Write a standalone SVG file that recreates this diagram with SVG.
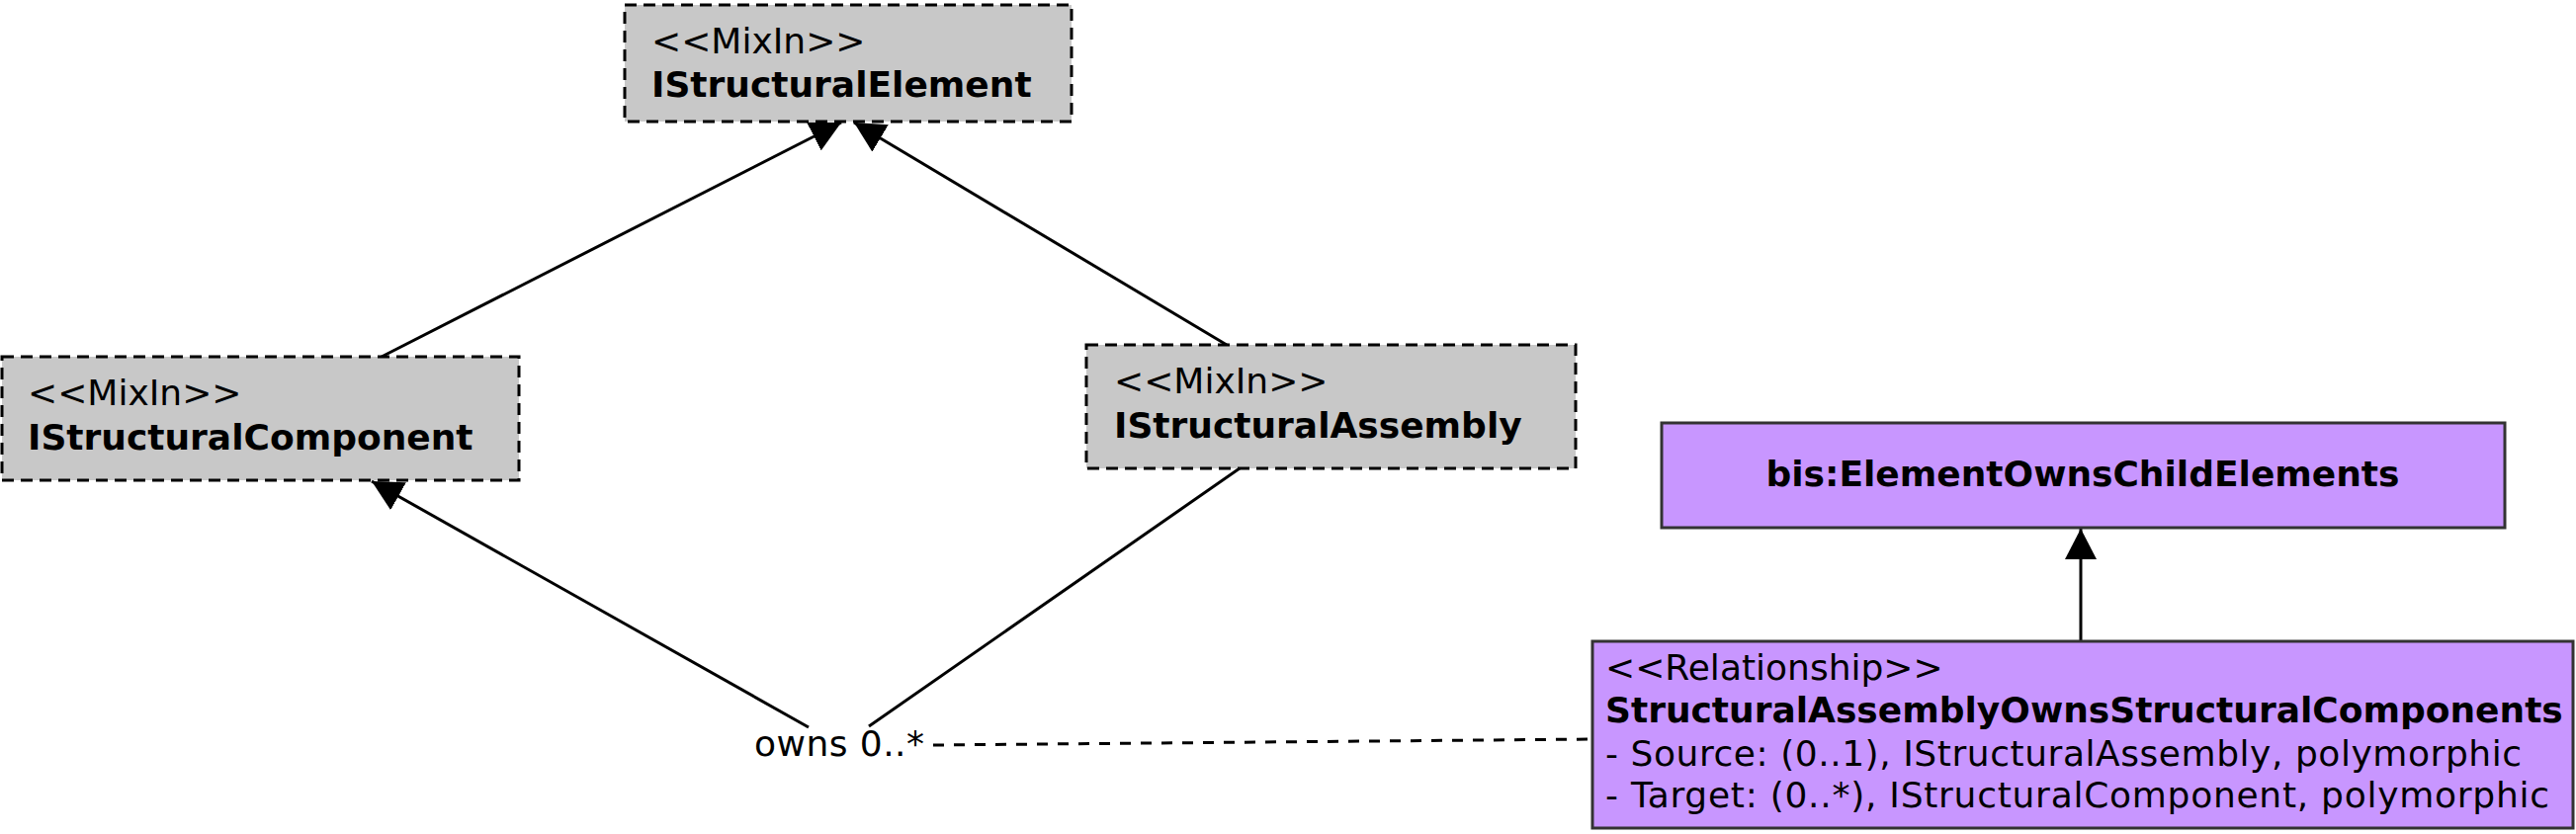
<svg xmlns="http://www.w3.org/2000/svg" width="2606" height="844" viewBox="0 0 2606 844">
<style>
  text { font-family: "DejaVu Sans", Verdana, sans-serif; font-size: 36px; fill: #000; }
  .b { font-weight: bold; }
  .mixin { fill: #c8c8c8; stroke: #000; stroke-width: 3; stroke-dasharray: 12,7; }
  .rel { fill: #c896ff; stroke: #333; stroke-width: 3; }
  .edge { stroke: #000; stroke-width: 3; fill: none; }
  .dash { stroke-dasharray: 11,10; }
</style>
<defs>
  <marker id="arrow" markerUnits="userSpaceOnUse" markerWidth="31" markerHeight="32" viewBox="0 0 31 32" refX="31" refY="16" orient="auto">
    <path d="M0,0 L31,16 L0,32 Z" fill="#000"/>
  </marker>
</defs>
<g id="connectors">
  <line class="edge" x1="386" y1="361" x2="851" y2="124" marker-end="url(#arrow)"/>
  <line class="edge" x1="1241" y1="349" x2="864" y2="124" marker-end="url(#arrow)"/>
  <line class="edge" x1="818" y1="736" x2="376" y2="487" marker-end="url(#arrow)"/>
  <line class="edge" x1="1254" y1="474" x2="879" y2="735"/>
  <line class="edge dash" x1="944" y1="754" x2="1610" y2="748"/>
  <line class="edge" x1="2105" y1="649" x2="2105" y2="535" marker-end="url(#arrow)"/>
  <text x="763" y="765" textLength="172" lengthAdjust="spacing">owns 0..*</text>
</g>
<g id="IStructuralElement">
  <rect class="mixin" x="632" y="5" width="452" height="118"/>
  <text x="659" y="54">&lt;&lt;MixIn&gt;&gt;</text>
  <text class="b" x="659" y="98">IStructuralElement</text>
</g>
<g id="IStructuralComponent">
  <rect class="mixin" x="2" y="361" width="523" height="125"/>
  <text x="28" y="410">&lt;&lt;MixIn&gt;&gt;</text>
  <text class="b" x="28" y="455">IStructuralComponent</text>
</g>
<g id="IStructuralAssembly">
  <rect class="mixin" x="1099" y="349" width="495" height="125"/>
  <text x="1127" y="398">&lt;&lt;MixIn&gt;&gt;</text>
  <text class="b" x="1127" y="443">IStructuralAssembly</text>
</g>
<g id="ElementOwnsChildElements">
  <rect class="rel" x="1681" y="428" width="853" height="106"/>
  <text class="b" x="2107" y="492" text-anchor="middle">bis:ElementOwnsChildElements</text>
</g>
<g id="StructuralAssemblyOwnsStructuralComponents">
  <rect class="rel" x="1611" y="649" width="992" height="189"/>
  <text x="1624" y="688">&lt;&lt;Relationship&gt;&gt;</text>
  <text class="b" x="1624" y="731">StructuralAssemblyOwnsStructuralComponents</text>
  <text x="1624" y="775" textLength="927" lengthAdjust="spacing">- Source: (0..1), IStructuralAssembly, polymorphic</text>
  <text x="1624" y="817" textLength="955" lengthAdjust="spacing">- Target: (0..*), IStructuralComponent, polymorphic</text>
</g>
</svg>
